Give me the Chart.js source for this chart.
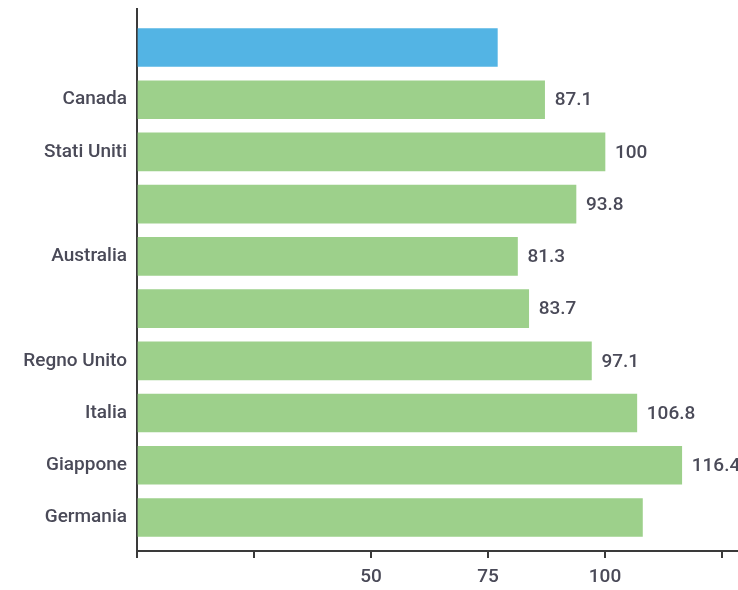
<!DOCTYPE html>
<html>
<head>
<meta charset="utf-8">
<script src="https://cdn.jsdelivr.net/npm/chart.js@4/dist/chart.umd.min.js"></script>
<style>
  html, body { margin: 0; padding: 0; background: #ffffff; }
  #wrap { width: 738px; height: 590px; }
</style>
</head>
<body>
<div id="wrap"><canvas id="c" width="738" height="590"></canvas></div>
<script>
// ---- data ----
const categories = ['', 'Canada', 'Stati Uniti', '', 'Australia', '', 'Regno Unito', 'Italia', 'Giappone', 'Germania'];
const values = [77, 87.1, 100, 93.8, 81.3, 83.7, 97.1, 106.8, 116.4, 108];
const valueLabels = ['', '87.1', '100', '93.8', '81.3', '83.7', '97.1', '106.8', '116.4', ''];
const xTickLabels = [50, 75, 100];

// ---- style ----
const BLUE = '#53b4e4';
const GREEN = '#9dd08b';
const TEXT = '#4a4a58';
const AXIS = '#3a3a3a';
const FONT = { family: 'Roboto, "DejaVu Sans", sans-serif', size: 19, weight: '500' };

const valueLabelPlugin = {
  id: 'valueLabels',
  afterDatasetsDraw(chart) {
    const ctx = chart.ctx;
    const meta = chart.getDatasetMeta(0);
    ctx.save();
    ctx.font = `${FONT.weight} ${FONT.size}px ${FONT.family}`;
    ctx.fillStyle = TEXT;
    ctx.textAlign = 'left';
    ctx.textBaseline = 'middle';
    meta.data.forEach((bar, i) => {
      const t = valueLabels[i];
      if (t) ctx.fillText(t, bar.x + 10, bar.y + 1);
    });
    ctx.restore();
  }
};

const axisExtendPlugin = {
  id: 'axisExtend',
  afterDraw(chart) {
    const ctx = chart.ctx;
    const a = chart.chartArea;
    ctx.save();
    ctx.strokeStyle = AXIS;
    ctx.lineWidth = 2;
    ctx.beginPath();
    ctx.moveTo(a.right, a.bottom);
    ctx.lineTo(chart.width, a.bottom);
    ctx.stroke();
    ctx.restore();
  }
};

new Chart(document.getElementById('c'), {
  type: 'bar',
  data: {
    datasets: [{
      data: values.map((v, i) => ({ x: v, y: i })),
      backgroundColor: (c) => c.dataIndex === 0 ? BLUE : GREEN,
      borderWidth: 0,
      barThickness: 38
    }]
  },
  options: {
    indexAxis: 'y',
    responsive: false,
    animation: false,
    layout: { padding: { top: 9, right: 16, left: 0, bottom: 0 } },
    plugins: { legend: { display: false }, tooltip: { enabled: false } },
    scales: {
      y: {
        type: 'linear',
        reverse: true,
        offset: false,
        bounds: 'data',
        min: -0.737,
        max: 9.642,
        afterBuildTicks: (scale) => { scale.ticks = categories.map((_, i) => ({ value: i })); },
        afterFit: (scale) => { scale.width = 137; scale.paddingTop = 0; scale.paddingBottom = 0; },
        ticks: {
          autoSkip: false,
          padding: 10,
          color: TEXT,
          font: FONT,
          callback: (v) => categories[v] ?? ''
        },
        grid: { offset: false, drawOnChartArea: false, drawTicks: false },
        border: { color: AXIS, width: 2 }
      },
      x: {
        type: 'linear',
        min: 0,
        max: 125,
        afterFit: (scale) => { scale.height = 39; scale.paddingLeft = 0; scale.paddingRight = 0; },
        ticks: {
          stepSize: 25,
          autoSkip: false,
          maxRotation: 0,
          padding: 8,
          color: TEXT,
          font: FONT,
          callback: (v) => xTickLabels.includes(v) ? String(v) : ''
        },
        grid: { drawOnChartArea: false, drawTicks: true, tickLength: 7, color: AXIS, lineWidth: 2 },
        border: { color: AXIS, width: 2 }
      }
    }
  },
  plugins: [valueLabelPlugin, axisExtendPlugin]
});
</script>
</body>
</html>
